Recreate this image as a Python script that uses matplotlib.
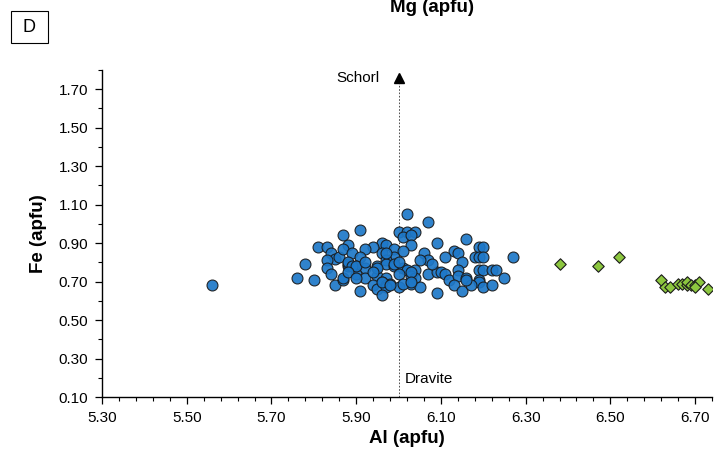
import matplotlib
matplotlib.use('Agg')
import matplotlib.pyplot as plt
from matplotlib.ticker import MultipleLocator, FormatStrFormatter
from matplotlib.patches import Rectangle

plt.rcParams['font.family'] = ['Liberation Sans', 'DejaVu Sans']

# blue circles (Al, Fe apfu)
blue_al = [5.56, 5.76, 5.78, 5.80, 5.81, 5.83, 5.87, 5.84, 5.85, 5.86, 5.83, 5.83, 5.84, 5.85,
           5.87, 5.88, 5.87, 5.88, 6.02, 6.07, 5.91, 6.00, 6.02, 6.04, 6.01, 6.03, 6.09, 6.16,
           6.19, 6.20, 5.96, 5.94, 5.97, 5.99, 6.03, 5.92, 5.89, 5.91, 5.96, 6.01, 6.06, 6.13,
           6.14, 6.11, 6.07, 6.05, 6.15, 6.18, 6.19, 6.20, 6.27, 5.99, 5.97, 5.88, 5.90, 5.92,
           5.95, 5.97, 5.99, 6.01, 6.02, 6.04, 6.07, 6.09, 6.10, 6.11, 6.12, 6.14, 6.14, 6.16,
           6.19, 6.20, 6.22, 6.23, 6.25, 6.19, 6.19, 5.87, 5.90, 5.92, 5.95, 5.97, 6.00, 6.03,
           6.04, 5.96, 5.97, 5.98, 5.94, 5.95, 5.97, 5.96, 6.00, 6.03, 6.05, 5.91, 6.09, 6.13,
           6.15, 6.17, 6.20, 6.22, 6.16, 5.97, 5.88, 5.89, 5.90, 5.92, 5.95, 5.99, 6.00, 6.03,
           5.88, 5.90, 5.94, 5.96, 6.01, 6.03, 5.98, 6.08]
blue_fe = [0.68, 0.72, 0.79, 0.71, 0.88, 0.88, 0.94, 0.85, 0.82, 0.83, 0.81, 0.77, 0.74, 0.68,
           0.71, 0.89, 0.87, 0.78, 1.05, 1.01, 0.97, 0.96, 0.96, 0.96, 0.93, 0.94, 0.90, 0.92,
           0.88, 0.88, 0.90, 0.88, 0.89, 0.87, 0.89, 0.87, 0.85, 0.83, 0.85, 0.86, 0.85, 0.86,
           0.85, 0.83, 0.81, 0.81, 0.80, 0.83, 0.83, 0.83, 0.83, 0.83, 0.81, 0.79, 0.78, 0.77,
           0.78, 0.79, 0.78, 0.77, 0.76, 0.76, 0.74, 0.75, 0.75, 0.74, 0.71, 0.76, 0.73, 0.72,
           0.76, 0.76, 0.76, 0.76, 0.72, 0.71, 0.70, 0.72, 0.74, 0.72, 0.73, 0.72, 0.74, 0.73,
           0.72, 0.70, 0.68, 0.69, 0.68, 0.66, 0.67, 0.63, 0.67, 0.69, 0.67, 0.65, 0.64, 0.68,
           0.65, 0.68, 0.67, 0.68, 0.71, 0.85, 0.80, 0.78, 0.78, 0.80, 0.77, 0.79, 0.80, 0.75,
           0.75, 0.72, 0.75, 0.70, 0.69, 0.70, 0.68, 0.79]

# green diamonds
green_al = [6.38, 6.47, 6.52, 6.62, 6.63, 6.64, 6.66, 6.67, 6.68, 6.68, 6.69, 6.70, 6.71, 6.70, 6.73]
green_fe = [0.79, 0.78, 0.83, 0.71, 0.67, 0.67, 0.69, 0.69, 0.68, 0.70, 0.68, 0.68, 0.70, 0.67, 0.66]

x_ticks = [5.30, 5.50, 5.70, 5.90, 6.10, 6.30, 6.50, 6.70]
y_ticks = [0.10, 0.30, 0.50, 0.70, 0.90, 1.10, 1.30, 1.50, 1.70]

fig = plt.figure(figsize=(7.2, 4.53), dpi=100)
ax = fig.add_axes([0.1417, 0.1236, 0.8472, 0.7219])

ax.scatter(blue_al, blue_fe, s=62, c='#1E78C8', edgecolors='#1a1a1a', linewidths=0.8,
           alpha=0.92, zorder=3)
ax.scatter(green_al, green_fe, s=34, marker='D', c='#8CC63F', edgecolors='#1a1a1a',
           linewidths=0.8, zorder=3)

# schorl-dravite line
ax.plot([6.0, 6.0], [0.10, 1.73], ls=(0, (2, 2)), lw=0.6, color='#333333', zorder=2)
ax.plot([6.0], [1.76], marker='^', ms=7, color='black', clip_on=False, zorder=4)
ax.text(5.955, 1.76, 'Schorl', ha='right', va='center', fontsize=11)
ax.text(6.015, 0.195, 'Dravite', ha='left', va='center', fontsize=11)

ax.set_xlim(5.30, 6.74)
ax.set_ylim(0.10, 1.80)
ax.set_xticks(x_ticks)
ax.set_yticks(y_ticks)
ax.xaxis.set_minor_locator(MultipleLocator(0.04, offset=0.02))
ax.yaxis.set_minor_locator(MultipleLocator(0.1))
ax.xaxis.set_major_formatter(FormatStrFormatter('%.2f'))
ax.yaxis.set_major_formatter(FormatStrFormatter('%.2f'))
ax.tick_params(which='major', direction='out', length=5, width=0.9, labelsize=11, pad=5)
ax.tick_params(which='minor', direction='out', length=3, width=0.8)
for sp in ['top', 'right']:
    ax.spines[sp].set_visible(False)
for sp in ['left', 'bottom']:
    ax.spines[sp].set_linewidth(1.0)

ax.set_xlabel('Al (apfu)', fontsize=13.5, fontweight='bold', labelpad=4)
ax.set_ylabel('Fe (apfu)', fontsize=13.5, fontweight='bold', labelpad=8)

# clipped top label
fig.text(0.60, 1 - 12 / 453, 'Mg (apfu)', ha='center', va='baseline', fontsize=13.5,
         fontweight='bold')

# panel letter
fig.patches.append(Rectangle((11 / 720, 1 - 43 / 453), 37 / 720, 32 / 453,
                             transform=fig.transFigure, fill=False, lw=0.8, ec='black'))
fig.text(29.5 / 720, 1 - 27 / 453, 'D', ha='center', va='center', fontsize=13)

fig.savefig('out.png', dpi=100)
